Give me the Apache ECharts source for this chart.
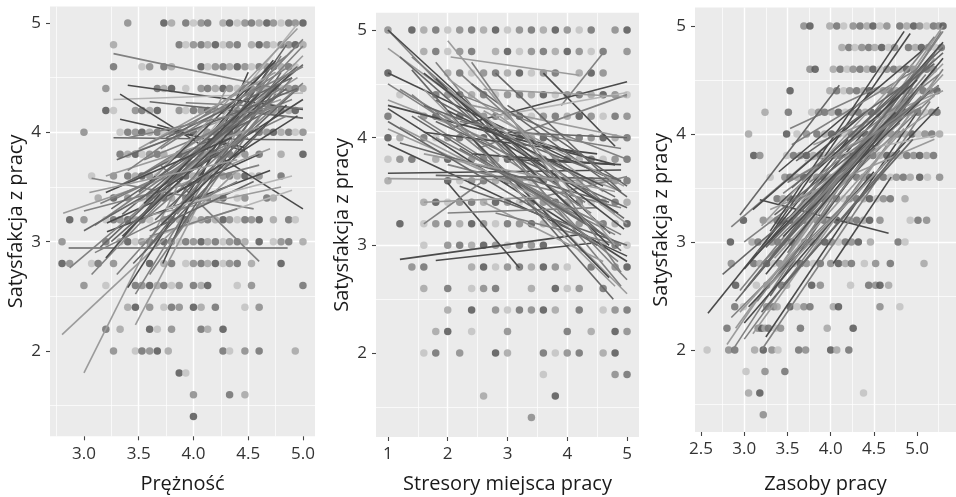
<!DOCTYPE html>
<html>
<head>
<meta charset="utf-8">
<script src="https://cdn.jsdelivr.net/npm/echarts@6/dist/echarts.min.js"></script>
<style>
html, body { margin: 0; padding: 0; background: #fff; }
#chart { width: 956px; height: 497px; }
</style>
</head>
<body>
<div id="chart"></div>
<script>
// osie
var yTitle = 'Satysfakcja z pracy';
var xTitles = ['Prężność', 'Stresory miejsca pracy', 'Zasoby pracy'];
var yTicks = [2, 3, 4, 5];
var p1XTicks = [3.0, 3.5, 4.0, 4.5, 5.0];
var p2XTicks = [1, 2, 3, 4, 5];
var p3XTicks = [2.5, 3.0, 3.5, 4.0, 4.5, 5.0];

// punkty: [y, [x, x, ...]]
var p1Dots = [
    [5.0, [3.40, 3.73, 3.80, 3.93, 4.00, 4.07, 4.13, 4.27, 4.33, 4.40, 4.47, 4.53, 4.60, 4.67, 4.73, 4.80, 4.87, 4.93, 5.00]],
    [4.8, [3.27, 3.87, 3.93, 4.00, 4.07, 4.13, 4.20, 4.27, 4.33, 4.40, 4.53, 4.60, 4.67, 4.73, 4.80, 4.87, 4.93, 5.00]],
    [4.6, [3.27, 3.53, 3.60, 3.73, 3.80, 4.07, 4.13, 4.20, 4.27, 4.33, 4.40, 4.47, 4.53, 4.60, 4.67, 4.73, 4.80, 4.87, 4.93]],
    [4.4, [3.20, 3.67, 3.73, 3.80, 3.93, 4.07, 4.13, 4.20, 4.27, 4.33, 4.40, 4.47, 4.53, 4.60, 4.67, 4.73, 4.80, 4.87, 4.93, 5.00]],
    [4.2, [3.20, 3.27, 3.47, 3.53, 3.60, 3.67, 3.87, 3.93, 4.00, 4.07, 4.13, 4.20, 4.27, 4.33, 4.40, 4.47, 4.53, 4.60, 4.67, 4.73, 4.80, 4.87, 4.93]],
    [4.0, [3.00, 3.33, 3.40, 3.47, 3.53, 3.60, 3.67, 3.73, 3.80, 3.87, 3.93, 4.00, 4.07, 4.13, 4.20, 4.27, 4.33, 4.40, 4.47, 4.60, 4.67, 4.73, 4.80, 4.87, 4.93, 5.00]],
    [3.8, [3.33, 3.40, 3.47, 3.53, 3.60, 3.67, 3.73, 3.87, 3.93, 4.00, 4.07, 4.13, 4.20, 4.27, 4.33, 4.40, 4.47, 4.60, 4.80, 5.00]],
    [3.6, [3.07, 3.27, 3.40, 3.47, 3.53, 3.60, 3.67, 3.80, 3.87, 3.93, 4.00, 4.07, 4.20, 4.27, 4.33, 4.40, 4.47, 4.53, 4.60, 4.80]],
    [3.4, [3.13, 3.27, 3.40, 3.53, 3.60, 3.67, 3.73, 3.80, 3.93, 4.00, 4.07, 4.13, 4.20, 4.27, 4.40, 4.47, 4.67, 4.73]],
    [3.2, [2.87, 3.00, 3.20, 3.27, 3.33, 3.40, 3.47, 3.53, 3.60, 3.73, 3.80, 3.87, 3.93, 4.00, 4.07, 4.13, 4.20, 4.27, 4.33, 4.40, 4.47, 4.53, 4.60, 4.73, 4.87, 4.93]],
    [3.0, [2.80, 3.20, 3.33, 3.40, 3.47, 3.53, 3.60, 3.67, 3.73, 3.80, 3.87, 3.93, 4.00, 4.07, 4.13, 4.20, 4.27, 4.33, 4.40, 4.47, 4.60, 4.73, 4.80, 4.87, 5.00]],
    [2.8, [2.80, 2.87, 3.07, 3.13, 3.27, 3.60, 3.73, 3.80, 3.93, 4.00, 4.07, 4.13, 4.20, 4.27, 4.33, 4.40, 4.53, 4.80]],
    [2.6, [3.00, 3.20, 3.47, 3.53, 3.60, 3.67, 3.73, 3.80, 3.87, 4.00, 4.07, 4.13, 4.40, 4.53, 5.00]],
    [2.4, [3.40, 3.47, 3.60, 3.73, 3.80, 3.87, 4.00, 4.07, 4.20, 4.47, 4.60]],
    [2.2, [3.20, 3.33, 3.60, 3.67, 3.80, 4.07, 4.13, 4.27]],
    [2.0, [3.27, 3.47, 3.53, 3.60, 3.67, 3.77, 4.27, 4.33, 4.47, 4.60, 4.93]],
    [1.8, [3.87, 3.93]],
    [1.6, [4.00, 4.33, 4.47]],
    [1.4, [4.00]]
];
var p2Dots = [
    [5.0, [1.0, 1.4, 1.6, 1.8, 2.0, 2.2, 2.4, 2.6, 2.8, 3.0, 3.2, 3.4, 3.6, 3.8, 4.0, 4.2, 4.4, 4.8, 5.0]],
    [4.8, [1.6, 1.8, 2.0, 2.2, 2.4, 2.8, 3.0, 3.2, 3.4, 3.6, 3.8, 4.0, 4.2, 4.4, 4.6, 5.0]],
    [4.6, [1.0, 2.0, 2.2, 2.4, 2.6, 2.8, 3.0, 3.2, 3.4, 3.6, 3.8, 4.2, 4.4, 4.6]],
    [4.4, [1.2, 1.8, 2.0, 2.2, 2.4, 2.6, 2.8, 3.0, 3.2, 3.4, 3.6, 3.8, 4.0, 4.2, 4.4, 4.6, 4.8, 5.0]],
    [4.2, [1.0, 1.6, 1.8, 2.0, 2.2, 2.4, 2.6, 2.8, 3.0, 3.2, 3.4, 3.6, 3.8, 4.0, 4.2, 4.4, 4.6, 4.8, 5.0]],
    [4.0, [1.0, 1.2, 1.6, 1.8, 2.0, 2.2, 2.4, 2.6, 2.8, 3.0, 3.2, 3.4, 3.6, 3.8, 4.0, 4.2, 4.4, 4.6, 4.8, 5.0]],
    [3.8, [1.0, 1.2, 1.4, 1.8, 2.0, 2.2, 2.4, 2.6, 2.8, 3.0, 3.2, 3.4, 3.6, 3.8, 4.0, 4.2, 4.4, 4.6, 4.8, 5.0]],
    [3.6, [1.0, 2.0, 2.2, 2.4, 2.6, 2.8, 3.0, 3.2, 3.4, 3.6, 3.8, 4.0, 4.2, 4.4, 4.6, 4.8, 5.0]],
    [3.4, [1.6, 1.8, 2.0, 2.2, 2.4, 2.6, 2.8, 3.0, 3.2, 3.4, 3.6, 3.8, 4.0, 4.2, 4.4, 4.6, 4.8, 5.0]],
    [3.2, [1.2, 1.6, 1.8, 2.0, 2.2, 2.4, 2.6, 2.8, 3.0, 3.2, 3.4, 3.6, 3.8, 4.0, 4.2, 4.6, 4.8, 5.0]],
    [3.0, [1.6, 2.0, 2.2, 2.4, 2.6, 2.8, 3.0, 3.2, 3.4, 3.6, 4.6, 4.8, 5.0]],
    [2.8, [1.4, 1.6, 2.4, 2.6, 2.8, 3.0, 3.2, 3.4, 3.6, 3.8, 4.0, 4.4, 4.8, 5.0]],
    [2.6, [1.6, 2.0, 2.4, 2.6, 2.8, 3.4, 3.8, 4.0, 4.2, 4.6]],
    [2.4, [2.0, 2.4, 2.8, 3.0, 3.2, 3.4, 3.6, 3.8, 4.2, 4.6, 4.8, 5.0]],
    [2.2, [1.8, 2.0, 2.4, 3.0, 4.0, 4.4, 4.8, 5.0]],
    [2.0, [1.6, 1.8, 2.2, 2.8, 3.0, 3.6, 3.8, 4.0, 4.2, 4.6, 4.8]],
    [1.8, [3.6, 4.8, 5.0]],
    [1.6, [2.6, 3.8]],
    [1.4, [3.4]]
];
var p3Dots = [
    [5.0, [3.69, 3.76, 3.99, 4.07, 4.15, 4.26, 4.34, 4.42, 4.49, 4.57, 4.65, 4.80, 4.88, 4.96, 5.03, 5.11, 5.19, 5.25, 5.30]],
    [4.8, [4.13, 4.21, 4.28, 4.36, 4.44, 4.51, 4.59, 4.67, 4.74, 4.90, 4.98, 5.05, 5.13, 5.21, 5.28]],
    [4.6, [3.76, 3.82, 4.03, 4.11, 4.19, 4.26, 4.34, 4.42, 4.49, 4.57, 4.65, 4.73, 4.80, 4.88, 4.96, 5.03, 5.11, 5.19]],
    [4.4, [3.53, 3.99, 4.07, 4.15, 4.22, 4.30, 4.38, 4.45, 4.53, 4.61, 4.69, 4.76, 4.84, 4.92, 5.00, 5.07, 5.15, 5.23]],
    [4.2, [3.24, 3.51, 3.78, 3.86, 3.93, 4.01, 4.09, 4.17, 4.24, 4.32, 4.40, 4.47, 4.55, 4.63, 4.70, 4.78, 4.86, 4.94, 5.01, 5.09, 5.17, 5.23]],
    [4.0, [3.05, 3.49, 3.61, 3.72, 3.84, 3.93, 4.01, 4.09, 4.17, 4.24, 4.32, 4.40, 4.47, 4.55, 4.63, 4.70, 4.78, 4.86, 4.94, 5.01, 5.09, 5.17, 5.26]],
    [3.8, [3.11, 3.18, 3.49, 3.57, 3.65, 3.72, 3.80, 3.88, 3.95, 4.03, 4.11, 4.19, 4.26, 4.34, 4.42, 4.49, 4.57, 4.65, 4.73, 4.80, 4.88, 4.96, 5.03, 5.11, 5.19]],
    [3.6, [3.30, 3.47, 3.53, 3.61, 3.69, 3.76, 3.84, 3.92, 3.99, 4.07, 4.15, 4.22, 4.30, 4.38, 4.45, 4.53, 4.61, 4.69, 4.76, 4.84, 4.92, 5.03, 5.12, 5.26]],
    [3.4, [3.38, 3.45, 3.53, 3.61, 3.69, 3.76, 3.84, 3.92, 3.99, 4.07, 4.15, 4.22, 4.30, 4.38, 4.45, 4.53, 4.61, 4.69, 4.86]],
    [3.2, [2.99, 3.22, 3.30, 3.38, 3.45, 3.53, 3.61, 3.69, 3.76, 3.84, 3.92, 3.99, 4.07, 4.15, 4.22, 4.30, 4.38, 4.45, 4.57, 4.92, 5.01, 5.11]],
    [3.0, [2.84, 3.09, 3.16, 3.24, 3.32, 3.39, 3.47, 3.55, 3.63, 3.70, 3.78, 3.86, 3.93, 4.01, 4.09, 4.17, 4.24, 4.32, 4.46, 4.78, 4.86]],
    [2.8, [2.85, 3.11, 3.18, 3.26, 3.34, 3.41, 3.49, 3.57, 3.65, 3.72, 3.80, 3.88, 4.00, 4.09, 4.17, 4.24, 4.39, 4.52, 4.69, 5.08]],
    [2.6, [2.90, 3.14, 3.26, 3.43, 3.49, 3.78, 3.88, 4.23, 4.44, 4.52, 4.57, 4.67]],
    [2.4, [2.89, 2.99, 3.26, 3.34, 3.38, 3.53, 3.61, 3.69, 3.76, 4.03, 4.09, 4.57, 4.80]],
    [2.2, [2.80, 3.16, 3.20, 3.24, 3.28, 3.36, 3.42, 3.65, 3.96, 4.26]],
    [2.0, [2.57, 2.82, 2.89, 3.12, 3.22, 3.32, 3.39, 3.63, 3.71, 4.00, 4.07, 4.21]],
    [1.8, [3.02, 3.24, 3.47]],
    [1.6, [3.05, 3.18, 4.38]],
    [1.4, [3.22]]
];

// linie regresji w grupach: [x1, y1, x2, y2, grupa]
var p1Lines = [
    [3.27, 4.72, 4.87, 4.38, 2], [3.40, 4.43, 5.00, 4.21, 4], [3.27, 4.30, 5.00, 4.36, 0],
    [3.33, 4.35, 5.00, 3.30, 4], [3.33, 4.12, 4.47, 3.86, 4], [3.27, 3.95, 5.00, 3.93, 3],
    [3.67, 4.07, 4.47, 3.83, 4], [2.86, 2.94, 4.86, 2.94, 3], [3.07, 3.58, 4.55, 3.30, 2],
    [3.70, 3.70, 4.60, 2.82, 2], [3.93, 4.27, 5.00, 4.22, 2], [3.60, 4.28, 5.00, 4.13, 3],
    [2.81, 3.26, 3.80, 3.60, 1], [3.00, 3.28, 4.60, 3.70, 2], [3.21, 3.17, 4.60, 3.80, 4],
    [3.21, 3.09, 4.70, 3.65, 4], [3.40, 3.20, 4.80, 3.50, 1], [3.50, 3.00, 4.90, 3.47, 0],
    [3.60, 3.05, 4.40, 3.30, 2], [3.30, 3.40, 4.85, 4.15, 2], [3.40, 3.80, 4.80, 4.30, 1],
    [2.80, 2.15, 4.40, 3.65, 1], [3.00, 1.80, 4.30, 4.40, 1], [3.07, 2.70, 4.20, 3.90, 2],
    [2.87, 2.76, 4.10, 3.80, 2], [3.40, 2.58, 4.70, 4.60, 4], [3.47, 2.24, 4.60, 4.40, 1],
    [3.47, 2.52, 4.80, 4.70, 2], [3.72, 2.80, 4.50, 4.55, 4], [3.30, 2.95, 4.94, 4.98, 0],
    [3.20, 2.85, 4.73, 4.66, 4], [3.40, 3.10, 5.00, 4.79, 2], [3.35, 3.25, 5.00, 4.62, 3],
    [3.50, 3.30, 4.90, 4.75, 1], [3.55, 2.90, 4.80, 4.45, 3], [3.60, 3.40, 5.00, 4.30, 4],
    [3.10, 3.15, 4.60, 4.20, 2], [3.25, 3.00, 4.50, 4.10, 3], [3.60, 2.70, 4.75, 4.35, 2],
    [3.80, 3.00, 4.80, 4.55, 3], [3.45, 3.55, 4.95, 4.50, 1], [3.50, 3.60, 4.80, 4.40, 2],
    [3.70, 3.50, 5.00, 4.85, 2], [3.80, 3.30, 4.85, 4.80, 3], [3.30, 3.50, 4.70, 4.20, 3],
    [3.90, 3.60, 5.00, 4.70, 1], [3.15, 3.35, 4.50, 3.95, 2], [3.55, 3.75, 4.90, 4.30, 2],
    [3.00, 3.10, 4.30, 3.85, 3], [3.85, 3.25, 4.90, 4.50, 2], [3.65, 3.20, 4.95, 4.40, 3],
    [3.20, 3.60, 4.60, 4.05, 1], [3.70, 3.85, 4.90, 4.62, 2], [3.10, 2.90, 4.40, 3.55, 2],
    [3.45, 3.35, 4.70, 3.85, 1], [3.60, 3.10, 4.55, 3.55, 3], [3.30, 2.70, 4.20, 3.70, 2],
    [3.75, 3.30, 4.90, 3.60, 0], [3.35, 3.05, 4.90, 4.55, 4], [3.50, 3.45, 4.95, 4.60, 3],
    [3.40, 3.65, 4.85, 4.70, 2], [3.60, 3.55, 4.75, 4.65, 4], [3.25, 3.30, 4.80, 4.35, 3],
    [3.70, 3.15, 4.85, 4.25, 4], [3.45, 2.80, 4.65, 4.05, 3], [3.55, 3.20, 5.00, 4.45, 2],
    [3.30, 3.75, 4.95, 4.40, 3], [3.65, 3.60, 4.95, 4.95, 1], [3.15, 2.95, 4.55, 4.25, 3],
    [3.50, 3.85, 4.75, 4.55, 1], [3.75, 3.95, 4.90, 4.50, 3], [3.40, 3.95, 4.80, 4.25, 2],
    [3.85, 3.45, 4.95, 4.15, 4], [3.60, 3.90, 5.00, 4.60, 2], [3.20, 3.45, 4.35, 3.95, 4],
    [3.55, 3.35, 4.60, 4.35, 4], [3.95, 3.75, 4.85, 4.40, 3], [3.05, 3.45, 4.40, 3.75, 1]
];
var p2Lines = [
    [1.0, 5.00, 5.0, 2.68, 2], [1.0, 5.00, 4.72, 3.11, 4], [1.0, 4.83, 4.8, 3.30, 1],
    [1.0, 4.60, 4.6, 3.65, 4], [1.0, 4.35, 4.9, 3.50, 1], [1.0, 4.30, 4.8, 3.75, 4],
    [1.0, 4.27, 5.0, 2.85, 4], [1.0, 4.08, 4.6, 3.20, 1], [1.0, 3.94, 5.0, 2.90, 4],
    [1.0, 3.67, 4.9, 3.70, 4], [1.0, 3.62, 4.8, 3.60, 1], [1.4, 4.63, 4.77, 2.50, 3],
    [2.05, 4.75, 4.2, 4.58, 1], [3.6, 4.60, 4.8, 3.92, 4], [3.9, 4.30, 4.62, 4.80, 2],
    [2.1, 4.10, 5.0, 4.52, 4], [1.2, 2.87, 4.2, 3.10, 4], [1.8, 2.86, 4.4, 3.02, 4],
    [2.0, 3.58, 3.2, 2.79, 4], [1.6, 3.20, 2.6, 3.60, 2], [1.6, 4.45, 5.0, 2.55, 1],
    [1.8, 4.70, 4.9, 2.62, 2], [1.5, 4.20, 4.9, 3.00, 2], [1.8, 4.15, 5.0, 3.35, 3],
    [2.0, 4.55, 4.6, 3.50, 1], [2.2, 4.40, 5.0, 3.80, 2], [2.4, 4.30, 5.0, 4.00, 1],
    [2.5, 3.90, 5.0, 4.40, 2], [2.8, 4.20, 5.0, 4.42, 0], [2.6, 4.10, 4.2, 3.85, 4],
    [1.6, 4.05, 4.5, 3.85, 4], [2.0, 3.75, 4.9, 3.35, 2], [2.4, 3.85, 4.8, 3.75, 4],
    [3.0, 3.80, 4.9, 3.75, 4], [2.2, 3.55, 5.0, 3.00, 3], [2.6, 3.40, 4.6, 2.85, 1],
    [3.0, 3.60, 4.8, 2.62, 1], [2.8, 3.30, 4.9, 3.00, 2], [1.8, 4.35, 4.8, 3.45, 3],
    [1.2, 4.45, 4.3, 3.40, 2], [2.4, 4.00, 4.7, 2.70, 4], [3.2, 3.95, 4.95, 3.25, 3],
    [2.0, 3.30, 4.5, 3.35, 2], [1.6, 3.40, 3.6, 3.45, 1], [1.2, 4.10, 4.0, 3.30, 1],
    [1.4, 4.75, 3.8, 3.60, 2], [1.0, 4.50, 4.4, 3.30, 2], [2.6, 4.45, 5.0, 4.38, 1],
    [3.0, 4.05, 5.0, 4.00, 3], [2.2, 3.90, 4.6, 3.10, 3], [3.4, 3.50, 4.8, 3.10, 2],
    [2.8, 4.60, 4.9, 3.50, 3], [1.8, 3.65, 4.8, 3.62, 3], [3.2, 3.40, 5.0, 3.64, 2],
    [1.2, 4.75, 4.9, 2.95, 3], [1.6, 4.60, 4.95, 3.15, 4], [1.4, 4.40, 4.85, 2.85, 2],
    [1.8, 4.55, 4.7, 3.00, 4], [2.0, 4.45, 5.0, 3.20, 1], [1.6, 4.30, 4.9, 3.60, 3],
    [2.2, 4.60, 4.8, 3.30, 2], [1.4, 4.20, 4.6, 3.10, 3], [2.4, 4.50, 5.0, 3.45, 3],
    [1.8, 4.00, 4.9, 3.10, 2], [2.0, 4.25, 4.6, 3.55, 4], [2.6, 4.25, 4.95, 3.55, 1],
    [1.2, 3.95, 4.7, 3.40, 3], [2.2, 4.15, 4.9, 3.90, 2], [2.8, 4.00, 4.85, 3.30, 4],
    [1.6, 3.85, 4.8, 3.50, 1], [2.4, 4.70, 4.9, 2.75, 2], [3.0, 4.30, 5.0, 3.55, 3],
    [1.0, 4.15, 4.5, 3.00, 3], [2.0, 4.90, 4.8, 3.00, 1]
];
var p3Lines = [
    [2.58, 2.34, 4.20, 3.95, 4], [2.85, 3.14, 4.40, 4.20, 2], [3.18, 3.39, 4.67, 3.08, 4],
    [4.03, 2.80, 4.70, 3.60, 4], [3.20, 2.95, 4.92, 4.93, 4], [3.53, 4.05, 4.57, 4.44, 2],
    [2.80, 2.05, 5.30, 5.00, 1], [2.85, 1.98, 5.28, 4.95, 2], [2.90, 2.20, 5.25, 4.80, 1],
    [3.00, 2.10, 5.30, 4.60, 2], [3.10, 2.15, 5.20, 4.50, 1], [3.20, 2.00, 5.15, 4.30, 2],
    [3.25, 2.12, 5.00, 4.20, 4], [3.05, 2.40, 5.25, 4.25, 4], [2.95, 2.55, 5.10, 4.65, 2],
    [3.00, 2.75, 5.30, 4.85, 4], [3.10, 2.65, 5.20, 4.70, 1], [3.20, 2.80, 5.25, 4.40, 2],
    [3.30, 2.50, 5.20, 4.75, 3], [3.15, 2.90, 5.00, 4.30, 1], [3.35, 2.85, 5.30, 4.55, 1],
    [3.40, 2.70, 5.10, 4.50, 4], [3.00, 3.00, 4.80, 4.10, 2], [2.75, 2.70, 4.50, 3.90, 3],
    [3.50, 3.20, 5.30, 4.65, 1], [3.45, 3.45, 5.25, 4.55, 2], [3.60, 3.60, 5.20, 4.35, 1],
    [3.30, 3.30, 5.20, 3.95, 1], [3.70, 3.75, 5.30, 4.00, 0], [3.40, 3.65, 5.10, 4.80, 4],
    [3.55, 3.90, 5.00, 4.60, 2], [3.10, 3.30, 4.40, 4.20, 4], [2.95, 3.25, 4.10, 4.45, 3],
    [3.30, 3.10, 4.85, 4.95, 4], [3.60, 3.30, 5.20, 4.90, 2], [2.90, 2.45, 4.30, 3.80, 3],
    [3.70, 3.40, 5.15, 4.20, 1], [3.20, 2.35, 4.80, 3.85, 3], [3.50, 2.90, 5.30, 4.95, 2],
    [2.85, 2.30, 4.60, 3.70, 2], [3.80, 3.90, 5.30, 4.40, 1], [3.45, 2.60, 4.95, 3.95, 3],
    [3.00, 2.55, 4.90, 4.45, 3], [3.35, 3.00, 5.05, 4.35, 2], [3.05, 2.60, 5.20, 4.60, 3],
    [3.25, 2.70, 5.30, 4.70, 4], [3.15, 2.45, 5.05, 4.45, 2], [3.35, 3.25, 5.25, 4.45, 3],
    [3.45, 3.05, 5.15, 4.40, 4], [3.25, 2.95, 4.90, 4.30, 3], [3.55, 3.50, 5.30, 4.75, 3],
    [3.65, 3.15, 5.10, 4.55, 2], [3.10, 2.85, 4.75, 4.20, 4], [2.95, 2.35, 4.85, 4.05, 1],
    [3.40, 3.35, 5.00, 4.50, 4], [3.75, 3.55, 5.25, 4.45, 2], [3.20, 3.15, 4.95, 4.65, 1],
    [3.00, 2.25, 4.50, 3.65, 4], [3.60, 3.75, 5.20, 4.65, 3], [3.30, 2.60, 4.65, 3.75, 1],
    [3.50, 3.55, 5.05, 4.25, 2], [3.85, 3.70, 5.30, 4.80, 3]
];

var font = "'Open Sans', 'Noto Sans', sans-serif";
var dotShades = ['#c2c2c2', '#a6a6a6', '#8b8b8b', '#717171', '#575757'];
var lineShades = ['#b5b5b5', '#9b9b9b', '#818181', '#676767', '#4a4a4a'];
var shadeCycle = [2, 4, 1, 3, 0, 2, 3, 1, 4, 0, 2, 3, 1, 4, 2, 0, 3];

function toPoints(rows) {
    var out = [];
    rows.forEach(function(r) {
        r[1].forEach(function(x) { out.push([x, r[0]]); });
    });
    return out;
}
function toSegments(list) {
    return list.map(function(s) {
        return { coords: [[s[0], s[1]], [s[2], s[3]]], lineStyle: { color: lineShades[s[4]] } };
    });
}

// rozmieszczenie paneli
var panels = [
    { left: 50, top: 6.6, width: 265, height: 429.7, xMin: 2.69, xMax: 5.11, yMin: 1.22, yMax: 5.15, ticks: p1XTicks, dec: 1, dots: p1Dots, lines: p1Lines, nameGap: 38 },
    { left: 376, top: 12.8, width: 263, height: 424.2, xMin: 0.8, xMax: 5.2, yMin: 1.22, yMax: 5.16, ticks: p2XTicks, dec: 0, dots: p2Dots, lines: p2Lines, nameGap: 37 },
    { left: 695, top: 7.6, width: 261, height: 424.4, xMin: 2.43, xMax: 5.45, yMin: 1.24, yMax: 5.17, ticks: p3XTicks, dec: 1, dots: p3Dots, lines: p3Lines, nameGap: 42 }
];

var grids = [], xAxes = [], yAxes = [], series = [];
panels.forEach(function(p, i) {
    grids.push({
        left: p.left, top: p.top, width: p.width, height: p.height,
        show: true, backgroundColor: '#ebebeb', borderWidth: 0,
        containLabel: false, outerBoundsMode: 'none'
    });
    var common = {
        type: 'value', gridIndex: i,
        axisLine: { show: false },
        splitLine: { show: true, showMinLine: false, showMaxLine: false, lineStyle: { color: '#ffffff', width: 1.4 } },
        minorTick: { show: false, splitNumber: 2 },
        minorSplitLine: { show: true, lineStyle: { color: '#ffffff', width: 0.7 } },
        nameLocation: 'middle',
        nameTextStyle: { fontFamily: font, fontSize: 20, color: '#1a1a1a' }
    };
    xAxes.push(Object.assign({}, common, {
        min: p.xMin, max: p.xMax,
        axisTick: { show: true, length: 4, customValues: p.ticks, lineStyle: { color: '#444', width: 1.1 } },
        axisLabel: {
            customValues: p.ticks, margin: 9, fontFamily: font, fontSize: 17, color: '#333',
            formatter: (function(d) { return function(v) { return (+v).toFixed(d); }; })(p.dec)
        },
        name: xTitles[i], nameGap: p.nameGap
    }));
    yAxes.push(Object.assign({}, common, {
        min: p.yMin, max: p.yMax,
        axisTick: { show: true, length: 4, customValues: yTicks, lineStyle: { color: '#444', width: 1.1 } },
        axisLabel: { customValues: yTicks, margin: 9, fontFamily: font, fontSize: 17, color: '#333' },
        name: yTitle, nameGap: 24
    }));
    series.push({
        type: 'scatter', xAxisIndex: i, yAxisIndex: i,
        data: toPoints(p.dots), symbolSize: 7.5, silent: true,
        itemStyle: {
            opacity: 0.85,
            color: function(params) { return dotShades[shadeCycle[params.dataIndex % shadeCycle.length]]; }
        },
        z: 2
    });
    series.push({
        type: 'lines', coordinateSystem: 'cartesian2d', xAxisIndex: i, yAxisIndex: i,
        data: toSegments(p.lines), silent: true,
        lineStyle: { width: 1.6, opacity: 1 },
        z: 3
    });
});

var myChart = echarts.init(document.getElementById('chart'));
myChart.setOption({
    animation: false,
    grid: grids,
    xAxis: xAxes,
    yAxis: yAxes,
    series: series
});
</script>
</body>
</html>
